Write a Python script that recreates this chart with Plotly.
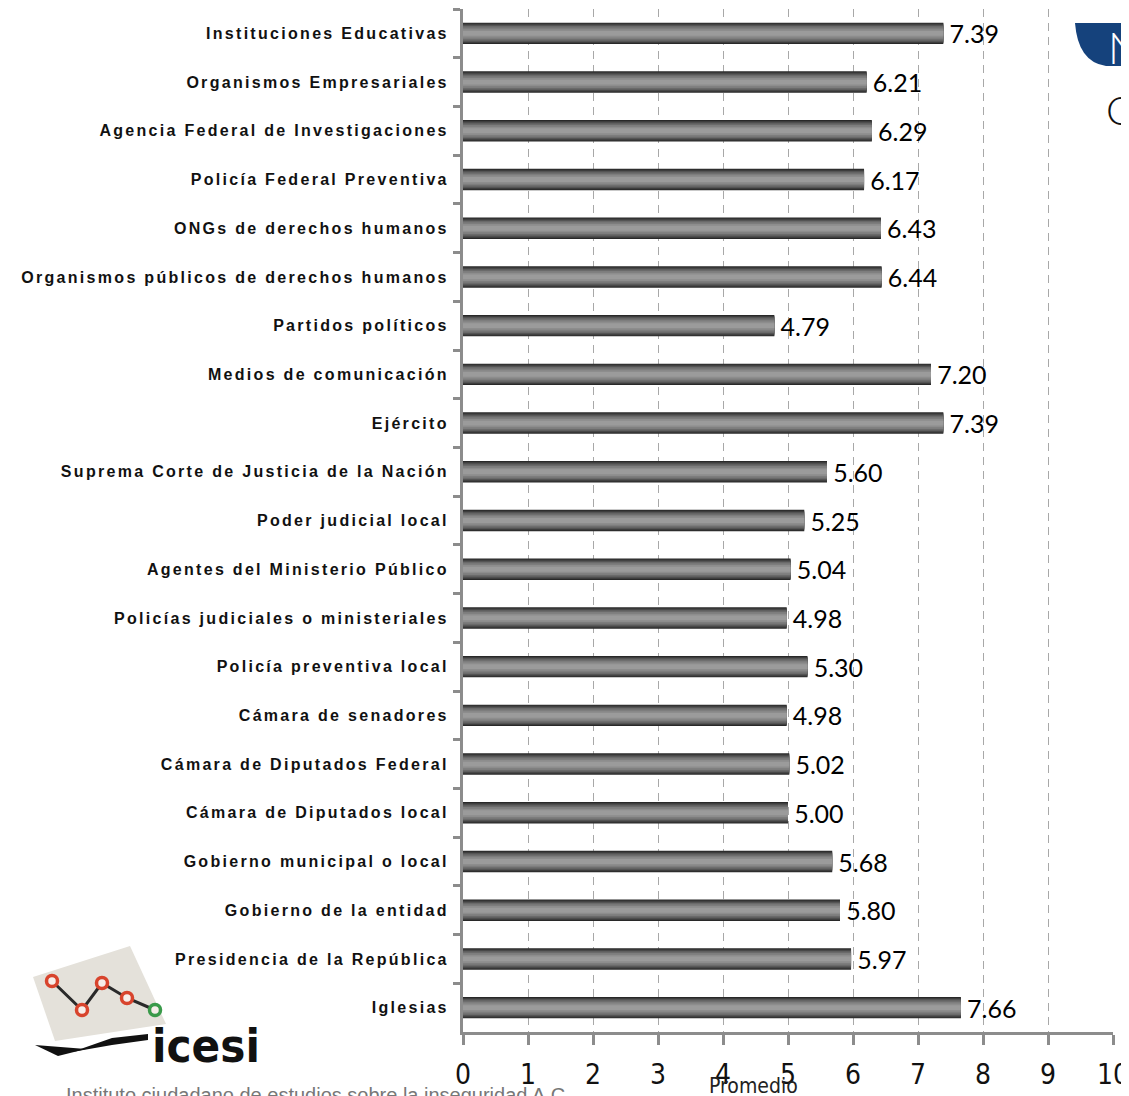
import plotly.graph_objects as go

# datos: calificación promedio de confianza en instituciones
instituciones = [
    "Instituciones Educativas",
    "Organismos Empresariales",
    "Agencia Federal de Investigaciones",
    "Policía Federal Preventiva",
    "ONGs de derechos humanos",
    "Organismos públicos de derechos humanos",
    "Partidos políticos",
    "Medios de comunicación",
    "Ejército",
    "Suprema Corte de Justicia de la Nación",
    "Poder judicial local",
    "Agentes del Ministerio Público",
    "Policías judiciales o ministeriales",
    "Policía preventiva local",
    "Cámara de senadores",
    "Cámara de Diputados Federal",
    "Cámara de Diputados local",
    "Gobierno municipal o local",
    "Gobierno de la entidad",
    "Presidencia de la República",
    "Iglesias",
]
promedio = [7.39, 6.21, 6.29, 6.17, 6.43, 6.44, 4.79, 7.20, 7.39, 5.60, 5.25,
            5.04, 4.98, 5.30, 4.98, 5.02, 5.00, 5.68, 5.80, 5.97, 7.66]
x_ticks = list(range(0, 11))

# la página deja 8px de margen al body
OFF = 8
FW, FH = 1129 - OFF, 1096 - OFF
X0, X1, Y0, Y1 = 463, 1113, 9, 1032   # área de trazado en px de ventana

NARROW = "Liberation Sans Narrow, DejaVu Sans Condensed, Arial Narrow, sans-serif"


def px(x):
    return (x - X0) / (X1 - X0)


def py(y):
    return (Y1 - y) / (Y1 - Y0)


fig = go.Figure()

# barra "cilíndrica": capas superpuestas de gris oscuro a claro
capas = [(0.44, "#282828"), (0.40, "#3d3d3d"), (0.35, "#545454"), (0.30, "#6a6a6a"),
         (0.24, "#7d7d7d"), (0.17, "#8d8d8d"), (0.10, "#9b9b9b")]
for i, (w, c) in enumerate(capas):
    fig.add_trace(go.Bar(
        y=instituciones, x=promedio, orientation="h",
        width=w, marker=dict(color=c, line=dict(width=0)),
        texttemplate="\u2009%{x:.2f}" if i == 0 else None,
        textposition="outside" if i == 0 else "none",
        textfont=dict(family="Lato, sans-serif", size=25, color="#000000"),
        constraintext="none", cliponaxis=False,
        hoverinfo="skip", showlegend=False,
    ))

fig.update_layout(
    width=FW, height=FH,
    margin=dict(l=X0 - OFF, r=FW - (X1 - OFF), t=Y0 - OFF, b=FH - (Y1 - OFF)),
    barmode="overlay",
    plot_bgcolor="white", paper_bgcolor="white",
    xaxis=dict(
        range=[0, 10], tickvals=x_ticks, showgrid=True, automargin=False,
        gridcolor="#a8a8a8", griddash="8px,6px", gridwidth=1, zeroline=False,
        showline=True, linecolor="#8c8c8c", linewidth=3,
        ticks="outside", ticklen=10, tickwidth=3, tickcolor="#8c8c8c",
        ticklabelstandoff=5, ticklabeloverflow="allow",
        tickfont=dict(family=NARROW, size=28, color="#111111"),
    ),
    yaxis=dict(
        autorange="reversed", showgrid=False, automargin=False,
        showline=True, linecolor="#8c8c8c", linewidth=3,
        ticks="outside", tickson="boundaries", ticklen=7, tickwidth=3, tickcolor="#8c8c8c",
        ticklabelstandoff=8,
        tickfont=dict(family="Liberation Sans, Arial, sans-serif", size=16,
                      color="#111111", weight="bold"),
    ),
)

# título del eje
fig.add_annotation(text="Promedio", xref="paper", yref="paper", x=px(753), y=py(1086),
                   xanchor="center", yanchor="middle", showarrow=False,
                   font=dict(family=NARROW, size=21, color="#222222"))

# fragmentos del título recortado (arriba a la derecha)
fig.add_shape(type="path", xref="paper", yref="paper", layer="above",
              path=f"M {px(1075)},{py(23)} L {px(1140)},{py(23)} L {px(1140)},{py(66)} "
                   f"L {px(1106)},{py(66)} Q {px(1078)},{py(62)} {px(1075)},{py(23)} Z",
              fillcolor="#15427c", line=dict(width=0))
fig.add_annotation(text="N", xref="paper", yref="paper", x=px(1106), y=py(48),
                   xanchor="left", yanchor="middle", showarrow=False,
                   font=dict(family="Lato, sans-serif", size=43, color="white", weight=300))
fig.add_annotation(text="C", xref="paper", yref="paper", x=px(1104), y=py(110),
                   xanchor="left", yanchor="middle", showarrow=False,
                   font=dict(family="Lato, sans-serif", size=40, color="#111111", weight=300))

# logotipo ICESI
fig.add_shape(type="path", xref="paper", yref="paper", layer="above",
              path=f"M {px(33)},{py(977)} L {px(130)},{py(946)} L {px(166)},{py(1024)} "
                   f"L {px(55)},{py(1041)} Z",
              fillcolor="#e4e1da", line=dict(width=0))
puntos = [(52, 981), (82, 1010), (102, 983), (127, 998), (155, 1010)]
fig.add_shape(type="path", xref="paper", yref="paper", layer="above",
              path="M " + " L ".join(f"{px(a)},{py(b)}" for a, b in puntos),
              line=dict(color="#2a2a2a", width=3))
for j, (a, b) in enumerate(puntos):
    fig.add_shape(type="circle", xref="paper", yref="paper", layer="above",
                  x0=px(a - 5.5), x1=px(a + 5.5), y0=py(b + 5.5), y1=py(b - 5.5),
                  fillcolor="#f6eeea",
                  line=dict(color="#3a9a4a" if j == 4 else "#d8442d", width=3.5))
fig.add_shape(type="path", xref="paper", yref="paper", layer="above",
              path=f"M {px(35)},{py(1045)} L {px(86)},{py(1049)} L {px(58)},{py(1056)} Z",
              fillcolor="#111111", line=dict(width=0))
fig.add_shape(type="path", xref="paper", yref="paper", layer="above",
              path=f"M {px(72)},{py(1052)} L {px(112)},{py(1038)} L {px(148)},{py(1034)} "
                   f"L {px(148)},{py(1040)} L {px(112)},{py(1045)} Z",
              fillcolor="#111111", line=dict(width=0))
fig.add_annotation(text="icesi", xref="paper", yref="paper", x=px(150), y=py(1045),
                   xanchor="left", yanchor="middle", showarrow=False,
                   font=dict(family=NARROW, size=47, color="#111111", weight="bold"))
fig.add_annotation(text="Instituto ciudadano de estudios sobre la inseguridad A.C.",
                   xref="paper", yref="paper", x=px(64), y=py(1082),
                   xanchor="left", yanchor="top", showarrow=False,
                   font=dict(family="Liberation Sans, Arial, sans-serif", size=20, color="#777777"))

# espaciado entre letras de las etiquetas de categoría
espaciado = "document.querySelectorAll('.ytick text').forEach(function(t){t.style.letterSpacing='2.3px';});"

fig.write_html("out.html", post_script=espaciado)
